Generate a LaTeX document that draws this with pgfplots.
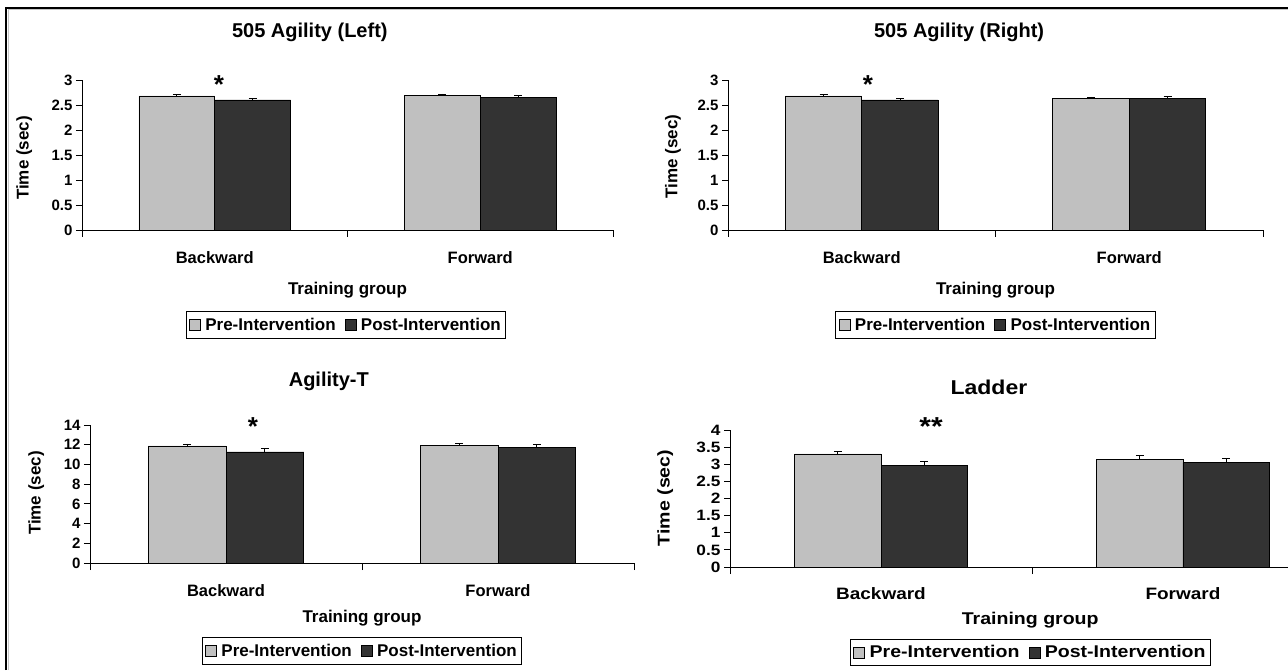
\documentclass[border=0pt]{standalone}
\usepackage{fontspec}
\setmainfont{Liberation Sans}
\newfontfamily\widefont[FakeStretch=1.15]{Liberation Sans}
\usepackage{pgfplots}
\pgfplotsset{compat=1.18}
\definecolor{pre}{RGB}{192,192,192}
\definecolor{post}{RGB}{51,51,51}
\newcommand\fs[1]{\fontsize{#1}{#1}\selectfont\bfseries}

\pgfplotsset{
 excel/.style={
  scale only axis, anchor=south west, clip=false,
  axis x line*=bottom, axis y line*=left,
  axis line style={line width=0.8pt, -},
  xmin=0, xmax=2, ymin=0,
  xtick={0.5,1.5}, xticklabels={Backward,Forward},
  major x tick style={draw=none},
  minor xtick={0,1,2},
  tick align=outside,
  major tick length=6pt, minor tick length=7pt,
  tick style={black, line width=0.8pt},
  /pgf/number format/assume math mode=true,
  yticklabel style={font=\fs{15}},
  xticklabel style={font=\fs{16.5}, yshift=-12pt},
  title style={font=\fs{20}, anchor=center},
  xlabel style={font=\fs{17}, anchor=center},
  ylabel style={font=\fs{17}, anchor=center},
  xlabel={Training group}, ylabel={Time (sec)},
  legend columns=2,
  legend style={draw=black, line width=0.8pt, font=\fs{17}, anchor=center, inner xsep=3pt, inner ysep=4.5pt,
    /tikz/every even column/.append style={column sep=7pt}},
 },
 sq/.style={legend image code/.code={\draw[##1,line width=0.6pt] (0pt,-5.5pt) rectangle (11pt,5.5pt); \path[draw=none,fill=none] (0pt,0pt) -- (14pt,0pt);}},
 eb/.style={error bars/.cd, y dir=plus, y explicit, error mark=|, error bar style={black, line width=0.8pt}, error mark options={black, line width=0.8pt, mark size=4pt}},
 preb/.style={ybar, bar width=0.2857, bar shift=0pt, fill=pre, draw=black, line width=0.6pt, sq, eb},
 postb/.style={ybar, bar width=0.2857, bar shift=0pt, fill=post, draw=black, line width=0.6pt, sq, eb},
}

\begin{document}
\begin{tikzpicture}[x=1pt,y=1pt]
\useasboundingbox (0pt,0pt) rectangle (1288pt,670pt);
\fill[white] (0pt,0pt) rectangle (1288pt,670pt);
% outer frame
\draw[gray!45, line width=1pt] (8pt,0pt) -- (8pt,660pt) -- (1288pt,660pt);
\draw[black, line width=1.6pt] (6pt,0pt) -- (6pt,662pt) -- (1288pt,662pt);

% Panel 1: 505 Agility (Left)
\begin{axis}[excel, at={(82pt,440pt)}, width=531pt, height=150pt,
  ymax=3, ytick={0,0.5,...,3},
  title={505 Agility (Left)}, title style={at={(axis description cs:0.429,1.275)}},
  xlabel style={at={(axis description cs:0.5,-0.40)}},
  ylabel style={at={(axis description cs:-0.109,0.48)}},
  legend style={at={(0.497,-0.633)}}]
\addplot[preb] coordinates {(0.357,2.68) +- (0,0.027) (1.357,2.687) +- (0,0.033)};
\addplot[postb] coordinates {(0.643,2.60) +- (0,0.033) (1.643,2.653) +- (0,0.04)};
\legend{Pre-Intervention,Post-Intervention}
\node[font=\fs{26}, yshift=-5pt] at (axis cs:0.516,3) {*};
\end{axis}

% Panel 2: 505 Agility (Right)
\begin{axis}[excel, at={(728pt,440pt)}, width=535pt, height=150pt,
  ymax=3, ytick={0,0.5,...,3},
  title={505 Agility (Right)}, title style={at={(axis description cs:0.432,1.275)}},
  xlabel style={at={(axis description cs:0.5,-0.40)}},
  ylabel style={at={(axis description cs:-0.103,0.49)}},
  legend style={at={(0.5,-0.633)}}]
\addplot[preb] coordinates {(0.357,2.68) +- (0,0.027) (1.357,2.633) +- (0,0.027)};
\addplot[postb] coordinates {(0.643,2.60) +- (0,0.027) (1.643,2.627) +- (0,0.047)};
\legend{Pre-Intervention,Post-Intervention}
\node[font=\fs{26}, yshift=-5pt] at (axis cs:0.523,3) {*};
\end{axis}

% Panel 3: Agility-T
\begin{axis}[excel, at={(90pt,107pt)}, width=544pt, height=138pt,
  ymax=14, ytick={0,2,...,14},
  xticklabel style={yshift=0pt},
  title={Agility-T}, title style={at={(axis description cs:0.439,1.27)}},
  xlabel style={at={(axis description cs:0.5,-0.40)}},
  ylabel style={at={(axis description cs:-0.099,0.507)}},
  legend style={at={(0.5,-0.638)}}]
\addplot[preb] coordinates {(0.357,11.88) +- (0,0.2) (1.357,11.94) +- (0,0.2)};
\addplot[postb] coordinates {(0.643,11.27) +- (0,0.37) (1.643,11.74) +- (0,0.3)};
\legend{Pre-Intervention,Post-Intervention}
\node[font=\fs{26}, yshift=-5pt] at (axis cs:0.599,14.35) {*};
\end{axis}

% Panel 4: Ladder
\begin{axis}[excel, at={(730pt,103pt)}, width=558pt, height=137pt,
  xmax=1.848, minor xtick={0,1},
  ymax=4, ytick={0,0.5,...,4},
  yticklabel style={font=\widefont\fs{15}},
  xticklabel style={font=\widefont\fs{16.5}, yshift=1pt},
  title style={font=\widefont\fs{20}},
  xlabel style={font=\widefont\fs{17}},
  ylabel style={font=\widefont\fs{17}},
  legend style={font=\widefont\fs{17}},
  title={Ladder}, title style={at={(axis description cs:0.464,1.265)}},
  xlabel style={at={(axis description cs:0.538,-0.385)}},
  ylabel style={at={(axis description cs:-0.116,0.504)}},
  legend style={at={(0.5385,-0.624)}}]
\addplot[preb] coordinates {(0.357,3.30) +- (0,0.08) (1.357,3.15) +- (0,0.10)};
\addplot[postb] coordinates {(0.643,2.97) +- (0,0.10) (1.643,3.05) +- (0,0.12)};
\legend{Pre-Intervention,Post-Intervention}
\node[font=\widefont\fs{26}, yshift=-5pt] at (axis cs:0.666,4.26) {**};
\end{axis}
\end{tikzpicture}
\end{document}
